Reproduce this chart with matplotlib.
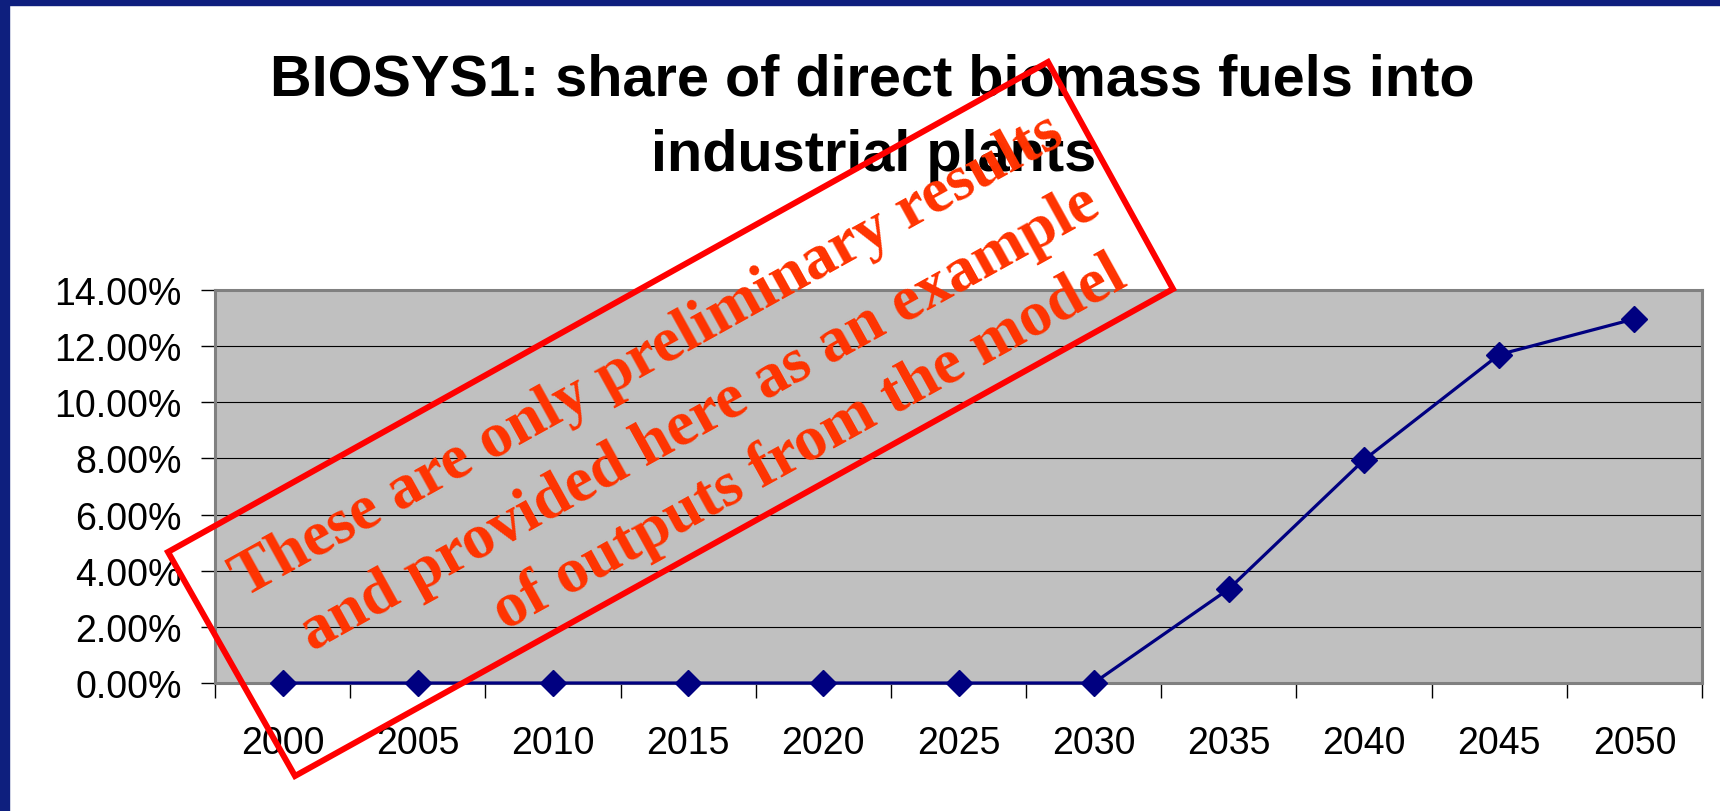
import math
import matplotlib
matplotlib.use("Agg")
import matplotlib.pyplot as plt
from matplotlib.patches import Polygon, Rectangle
from matplotlib.ticker import FuncFormatter, FixedLocator

# chart data
years = ["2000", "2005", "2010", "2015", "2020", "2025", "2030", "2035", "2040", "2045", "2050"]
share = [0.0, 0.0, 0.0, 0.0, 0.0, 0.0, 0.0, 0.0335, 0.0795, 0.117, 0.1297]
y_ticks = [0.0, 0.02, 0.04, 0.06, 0.08, 0.10, 0.12, 0.14]

title_lines = ["BIOSYS1: share of direct biomass fuels into", "industrial plants"]
stamp_lines = ["These are only preliminary results",
               "and provided here as an example",
               "of outputs from the model"]

W, H = 1720, 812
DPI = 100
plt.rcParams["font.family"] = ["Liberation Sans", "DejaVu Sans"]

fig = plt.figure(figsize=(W / DPI, H / DPI), dpi=DPI)
fig.patch.set_facecolor("white")

# dark blue frame on the left and top
fig.patches.append(Rectangle((0, 0), 9 / W, 1, transform=fig.transFigure, color="#0E1F7E", zorder=5))
fig.patches.append(Rectangle((0, 1 - 6 / H), 1, 6 / H, transform=fig.transFigure, color="#0E1F7E", zorder=5))

ax = fig.add_axes([215 / W, 1 - 684 / H, (1702 - 215) / W, (684 - 291) / H])
ax.set_facecolor("#C0C0C0")

x = list(range(len(years)))
ax.plot(x, share, color="#000080", linewidth=2.3, marker="D", markersize=13.5,
        markerfacecolor="#000080", markeredgecolor="#000080", clip_on=False, zorder=3)

ax.set_xlim(-0.5, len(years) - 0.5)
ax.set_ylim(0, 0.14)
ax.yaxis.set_major_locator(FixedLocator(y_ticks))
ax.yaxis.set_major_formatter(FuncFormatter(lambda v, p: f"{v * 100:.2f}%"))
ax.grid(axis="y", color="black", linewidth=0.8)
ax.set_axisbelow(True)

ax.set_xticks(x)
ax.set_xticklabels(years)
ax.set_xticks([i - 0.5 for i in range(len(years) + 1)], minor=True)
ax.tick_params(axis="x", which="major", length=0, pad=30, labelsize=27)
ax.tick_params(axis="x", which="minor", length=11, width=1, color="black", direction="out")
ax.tick_params(axis="y", length=10, width=1, color="black", direction="out", pad=14, labelsize=27)

for s in ax.spines.values():
    s.set_color("#808080")
    s.set_linewidth(2.2)

# title, two lines
fig.text(872 / W, 1 - 96 / H, title_lines[0], ha="center", va="baseline",
         fontsize=41.5, fontweight="bold")
fig.text(874 / W, 1 - 171 / H, title_lines[1], ha="center", va="baseline",
         fontsize=41.5, fontweight="bold")

# red "preliminary results" stamp (pixel coords, y down)
corners = [(168, 553), (295, 777), (1173, 290), (1048, 63)]
fig.patches.append(Polygon([(cx / W, 1 - cy / H) for cx, cy in corners], closed=True,
                           fill=False, edgecolor="#FF0000", linewidth=4.3,
                           transform=fig.transFigure, zorder=6))

angle = 29
a = math.radians(angle)
ux, uy = math.cos(a), -math.sin(a)   # along the text
nx, ny = math.sin(a), math.cos(a)    # towards the next line
cx0, cy0 = 670, 421
# (shift along text, shift across lines) for each baseline
offsets = [(12, -52), (27, 28), (111, 104)]
for line, (du, dn) in zip(stamp_lines, offsets):
    px = cx0 + du * ux + dn * nx
    py = cy0 + du * uy + dn * ny
    fig.text(px / W, 1 - py / H, line, ha="center", va="baseline",
             rotation=angle, rotation_mode="anchor", color="#FF3300", fontsize=46.3,
             fontweight="bold", family=["Liberation Serif", "DejaVu Serif"], zorder=7)

fig.savefig("out.png", dpi=DPI)
